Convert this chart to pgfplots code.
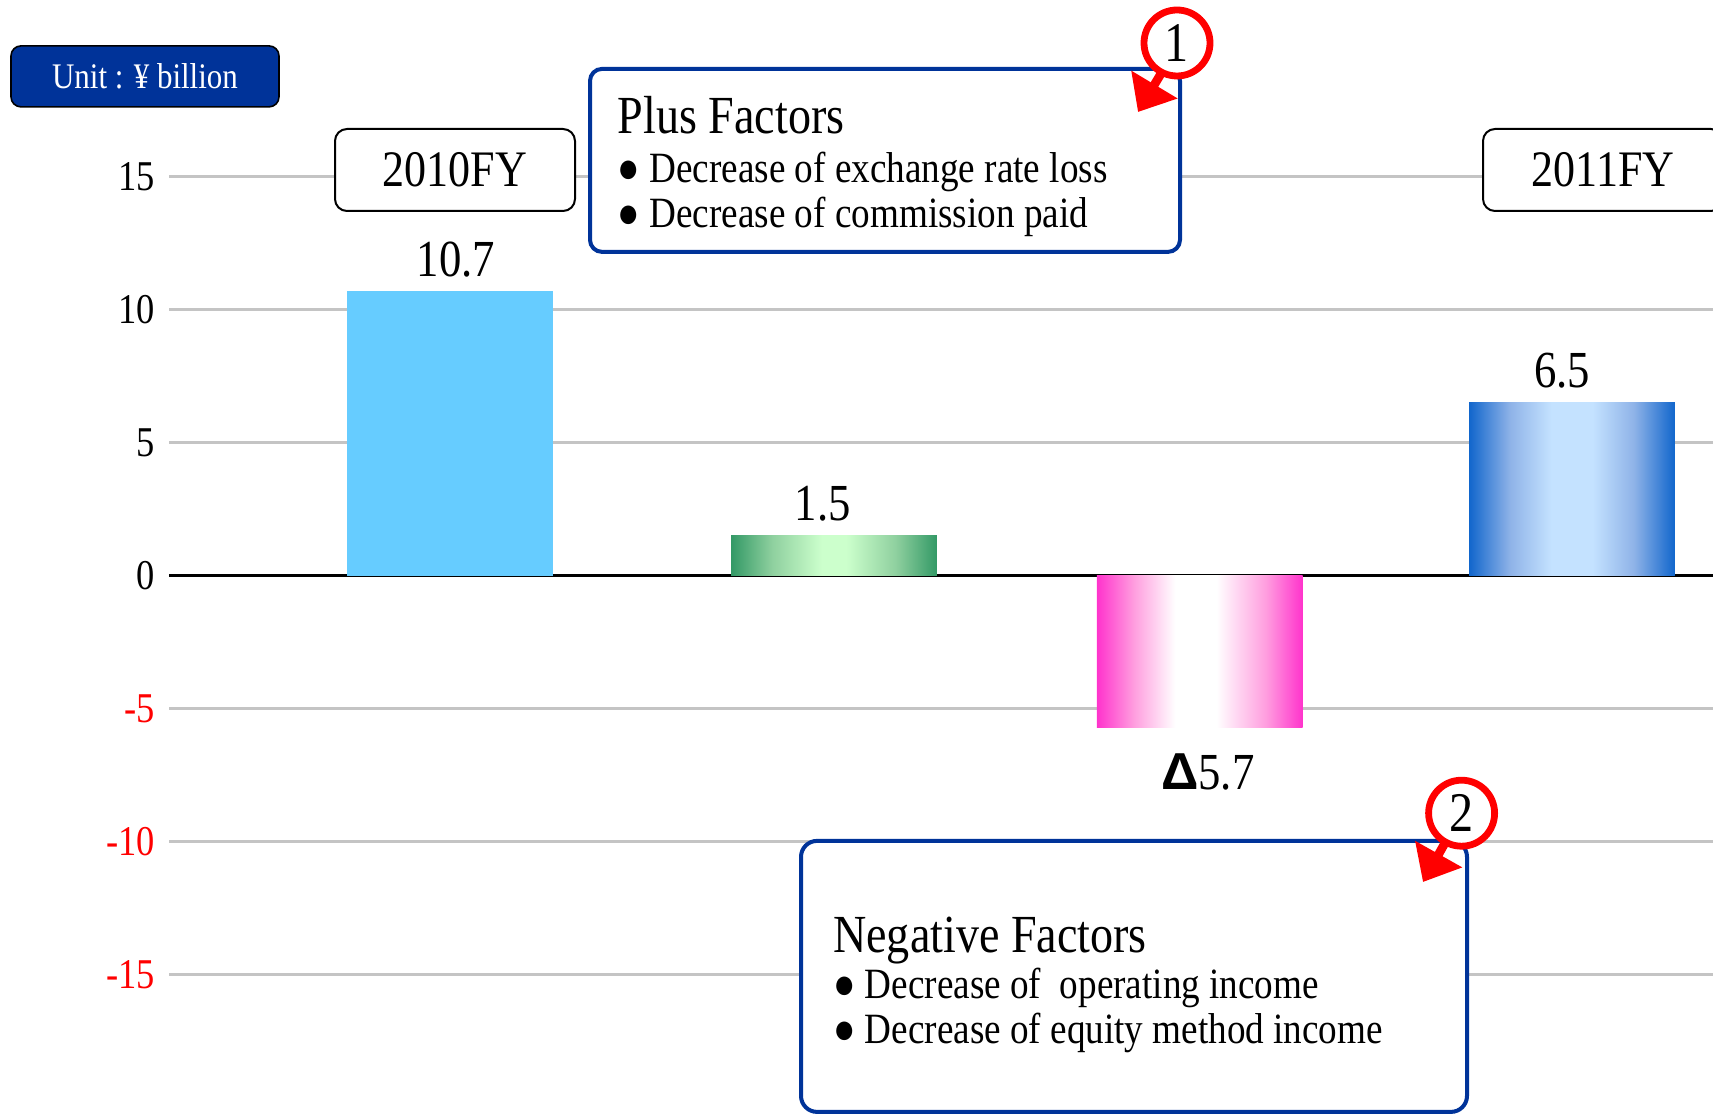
\documentclass[border=0pt]{standalone}
\usepackage{pgfplots}
\pgfplotsset{compat=1.18}
\usetikzlibrary{arrows.meta}
\usepackage{fontspec}
\setmainfont[FakeStretch=0.86]{Liberation Serif}
\newfontfamily\symfont{Liberation Sans}

\definecolor{gridgray}{HTML}{C4C4C4}
\definecolor{navy}{HTML}{003399}
\definecolor{skyb}{HTML}{66CCFF}
\definecolor{gdark}{HTML}{339966}
\definecolor{gmid}{HTML}{8FD09F}
\definecolor{glight}{HTML}{CCFFCC}
\definecolor{mdark}{HTML}{FF33CC}
\definecolor{mmid}{HTML}{FF9EDF}
\definecolor{bdark}{HTML}{1166CC}
\definecolor{bmid}{HTML}{8FB3E8}
\definecolor{blight}{HTML}{C4E2FF}

% bar shadings: the path box maps to 25bp..75bp
\pgfdeclarehorizontalshading{greenbar}{100bp}{color(0bp)=(gdark); color(25bp)=(gdark);
  color(35bp)=(gmid); color(47bp)=(glight); color(53bp)=(glight); color(65bp)=(gmid);
  color(75bp)=(gdark); color(100bp)=(gdark)}
\pgfdeclarehorizontalshading{pinkbar}{100bp}{color(0bp)=(mdark); color(25bp)=(mdark);
  color(34bp)=(mmid); color(44bp)=(white); color(54bp)=(white); color(66bp)=(mmid);
  color(75bp)=(mdark); color(100bp)=(mdark)}
\pgfdeclarehorizontalshading{bluebar}{100bp}{color(0bp)=(bdark); color(25bp)=(bdark);
  color(35bp)=(bmid); color(45bp)=(blight); color(55bp)=(blight); color(65bp)=(bmid);
  color(75bp)=(bdark); color(100bp)=(bdark)}

\newcommand{\fs}[1]{\fontsize{#1}{1.15\dimexpr#1pt\relax}\selectfont}

\begin{document}
\begin{tikzpicture}[x=1pt,y=1pt]
\begin{axis}[
  at={(42.25pt,0pt)}, anchor=south west,
  scale only axis, width=386pt, height=278.5pt,
  xmin=-0.751, xmax=3.377, ymin=-20.24, ymax=21.64,
  axis line style={draw=none},
  major tick length=0pt,
  xtick=\empty,
  ytick={-15,-10,-5,5,10,15},
  yticklabels={\textcolor{red}{-15},\textcolor{red}{-10},\textcolor{red}{-5},5,10,15},
  extra y ticks={0},
  extra y tick labels={0},
  extra y tick style={grid style={black, line width=0.6pt}},
  ymajorgrids,
  grid style={gridgray, line width=0.6pt},
  yticklabel style={font=\fs{10.6}},
  clip=false,
  bar width=0.55,
  nodes near coords style={font=\fs{13}, text=black},
]
% 2010FY
\addplot[ybar, bar shift=0pt, draw=none, fill=skyb,
  nodes near coords={10.7}, nodes near coords style={xshift=1.5pt}] coordinates {(0,10.7)};
% plus factors
\addplot[ybar, bar shift=0pt, draw=none, shade, shading=greenbar,
  nodes near coords={1.5}, nodes near coords style={xshift=-2.8pt}] coordinates {(1.027,1.5)};
% negative factors
\addplot[ybar, bar shift=0pt, draw=none, shade, shading=pinkbar,
  nodes near coords={{\symfont\bfseries Δ}5.7},
  nodes near coords style={yshift=-3pt, xshift=2pt}] coordinates {(2.005,-5.7)};
% 2011FY
\addplot[ybar, bar shift=0pt, draw=none, shade, shading=bluebar,
  nodes near coords={6.5}, nodes near coords style={xshift=-2.5pt}] coordinates {(3,6.5)};
\end{axis}

% unit badge
\node[draw=black, line width=0.4pt, fill=navy, rounded corners=2.5pt,
  minimum width=67pt, minimum height=15.25pt, text=white, font=\fs{9}]
  at (36.25,259.4) {Unit : ¥ billion};

% year boxes
\node[draw=black, line width=0.5pt, fill=white, rounded corners=3pt,
  minimum width=60pt, minimum height=20.5pt, font=\fs{12.8}]
  at (113.75,236) {2010FY};
\node[draw=black, line width=0.5pt, fill=white, rounded corners=3pt,
  minimum width=60pt, minimum height=20.5pt, font=\fs{12.8}]
  at (400.75,236) {2011FY};

% plus factors box
\node[draw=navy, line width=1pt, fill=white, rounded corners=3pt,
  minimum width=147.5pt, minimum height=45.75pt] at (221.25,238.4) {};
\node[anchor=base west, inner sep=0pt, font=\fs{13.4}] at (154.25,245.2) {Plus Factors};
\node[anchor=base west, inner sep=0pt, font=\fs{10.8}] at (154.25,232.9) {● Decrease of exchange rate loss};
\node[anchor=base west, inner sep=0pt, font=\fs{10.8}] at (154.25,221.7) {● Decrease of commission paid};
\draw[red, line width=2.2pt, -{Triangle[width=13pt,length=8pt]}] (292,263) -- (284.5,250.5);
\node[circle, draw=red, line width=1.7pt, fill=white, minimum size=16.5pt,
  inner sep=0pt, font=\fs{14}] at (294.25,267.75) {1};

% negative factors box
\node[draw=navy, line width=1pt, fill=white, rounded corners=4pt,
  minimum width=166.5pt, minimum height=67.75pt] at (283.5,34.4) {};
\node[anchor=base west, inner sep=0pt, font=\fs{13.4}] at (208.1,40.35) {Negative Factors};
\node[anchor=base west, inner sep=0pt, font=\fs{10.8}] at (208.1,28.9) {● Decrease of\ \ operating income};
\node[anchor=base west, inner sep=0pt, font=\fs{10.8}] at (208.1,17.7) {● Decrease of equity method income};
\draw[red, line width=2.2pt, -{Triangle[width=13pt,length=8pt]}] (362.5,70) -- (355.75,58);
\node[circle, draw=red, line width=1.7pt, fill=white, minimum size=16.5pt,
  inner sep=0pt, font=\fs{14}] at (365.4,75.2) {2};

\pgfresetboundingbox
\path[use as bounding box] (0,0) rectangle (428.25,278.5);
\end{tikzpicture}
\end{document}
